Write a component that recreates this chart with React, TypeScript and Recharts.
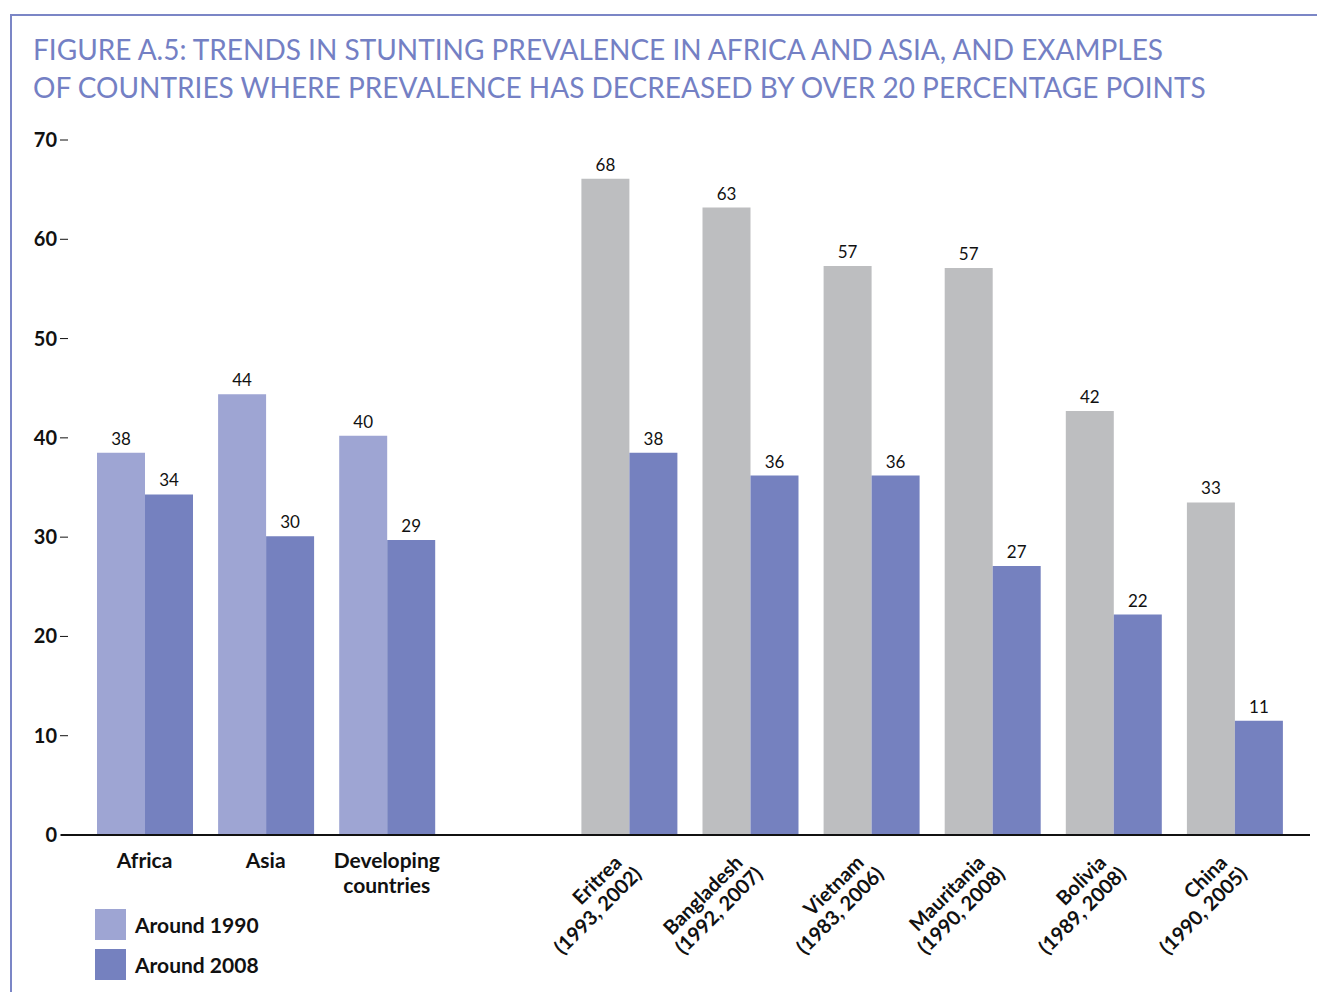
// Stunting prevalence: regions vs. countries with big declines

import { BarChart, Bar, XAxis, YAxis, Cell, LabelList } from "recharts";

const nameLine1 = ["Africa", "Asia", "Developing", "", "Eritrea", "Bangladesh", "Vietnam", "Mauritania", "Bolivia", "China"];
const nameLine2 = ["", "", "countries", "", "(1993, 2002)", "(1992, 2007)", "(1983, 2006)", "(1990, 2008)", "(1989, 2008)", "(1990, 2005)"];

const values1990 = [38.5, 44.4, 40.2, null, 66.1, 63.2, 57.3, 57.1, 42.7, 33.5];
const values2008 = [34.3, 30.1, 29.7, null, 38.5, 36.2, 36.2, 27.1, 22.2, 11.5];
const labels1990 = ["38", "44", "40", "", "68", "63", "57", "57", "42", "33"];
const labels2008 = ["34", "30", "29", "", "38", "36", "36", "27", "22", "11"];

const yTicks = [0, 10, 20, 30, 40, 50, 60, 70];

const LIGHT = "#9ea5d3";
const DARK = "#7581bf";
const GRAY = "#bdbec0";
const BORDER = "#7b86c6";
const FONT = "Lato, 'Open Sans', sans-serif";

const data = nameLine1.map((n, i) => ({
  key: String(i),
  v1990: values1990[i],
  v2008: values2008[i],
  l1990: labels1990[i],
  l2008: labels2008[i],
}));

const YTick = ({ x, y, payload }: any) => (
  <g>
    <text x={x - 4} y={y} dy={7} textAnchor="end" fontFamily={FONT} fontWeight={700} fontSize={20} fill="#111">
      {payload.value}
    </text>
    <line x1={x - 1} x2={x + 7} y1={y} y2={y} stroke="#111" strokeWidth={1} />
  </g>
);

const XTick = ({ x, y, payload }: any) => {
  const i = Number(payload.value);
  if (!nameLine1[i]) return null;
  if (i < 3) {
    return (
      <text x={x} y={y} textAnchor="middle" fontFamily={FONT} fontWeight={700} fontSize={21} fill="#111">
        <tspan x={x} dy={33}>{nameLine1[i]}</tspan>
        {nameLine2[i] && <tspan x={x} dy={25}>{nameLine2[i]}</tspan>}
      </text>
    );
  }
  return (
    <g transform={`translate(${x - 6}, ${y + 29}) rotate(-45)`}>
      <text x={0} y={0} textAnchor="end" fontFamily={FONT} fontWeight={700} fontSize={20} fill="#111">
        <tspan x={0} dy={0}>{nameLine1[i]}</tspan>
        <tspan x={6} dy={22}>{nameLine2[i]}</tspan>
      </text>
    </g>
  );
};

const App = () => {
  return (
    <div style={{ position: "absolute", left: 0, top: 0, width: 1317, height: 992, background: "#fff", overflow: "hidden" }}>
      {/* frame */}
      <div style={{ position: "absolute", left: 10, top: 14, width: 1307, height: 2, background: BORDER }} />
      <div style={{ position: "absolute", left: 10, top: 14, width: 2, height: 978, background: BORDER }} />

      <div
        style={{
          position: "absolute",
          left: 33,
          top: 30,
          fontFamily: FONT,
          fontSize: 28,
          lineHeight: "38px",
          color: "#7480c4",
          whiteSpace: "nowrap",
        }}
      >
        <div>FIGURE A.5: TRENDS IN STUNTING PREVALENCE IN AFRICA AND ASIA, AND EXAMPLES</div>
        <div>OF COUNTRIES WHERE PREVALENCE HAS DECREASED BY OVER 20 PERCENTAGE POINTS</div>
      </div>

      <div style={{ position: "absolute", left: 0, top: 0 }}>
        <BarChart
          width={1317}
          height={992}
          data={data}
          margin={{ top: 140, right: 7, left: 0, bottom: 0 }}
          barGap={0}
          barSize={48}
        >
          <XAxis
            dataKey="key"
            height={157}
            tickLine={false}
            tickSize={0}
            tickMargin={0}
            interval={0}
            axisLine={{ stroke: "#111", strokeWidth: 2 }}
            padding={{ left: 23, right: 15 }}
            tick={<XTick />}
          />
          <YAxis
            domain={[0, 70]}
            ticks={yTicks}
            width={61}
            axisLine={false}
            tickLine={false}
            tickSize={0}
            tickMargin={0}
            tick={<YTick />}
          />
          <Bar dataKey="v1990" isAnimationActive={false}>
            {data.map((d, i) => (
              <Cell key={d.key} fill={i < 3 ? LIGHT : GRAY} />
            ))}
            <LabelList dataKey="l1990" position="top" offset={8} fontFamily={FONT} fontSize={17} fill="#111" />
          </Bar>
          <Bar dataKey="v2008" fill={DARK} isAnimationActive={false}>
            <LabelList dataKey="l2008" position="top" offset={8} fontFamily={FONT} fontSize={17} fill="#111" />
          </Bar>
        </BarChart>
      </div>

      {/* legend */}
      <div style={{ position: "absolute", left: 95, top: 909, fontFamily: FONT, fontWeight: 700, fontSize: 21, color: "#111" }}>
        <div style={{ display: "flex", alignItems: "center", height: 31, marginBottom: 9 }}>
          <div style={{ width: 31, height: 31, background: LIGHT, marginRight: 9 }} />
          Around 1990
        </div>
        <div style={{ display: "flex", alignItems: "center", height: 31 }}>
          <div style={{ width: 31, height: 31, background: DARK, marginRight: 9 }} />
          Around 2008
        </div>
      </div>
    </div>
  );
};

export default App;
